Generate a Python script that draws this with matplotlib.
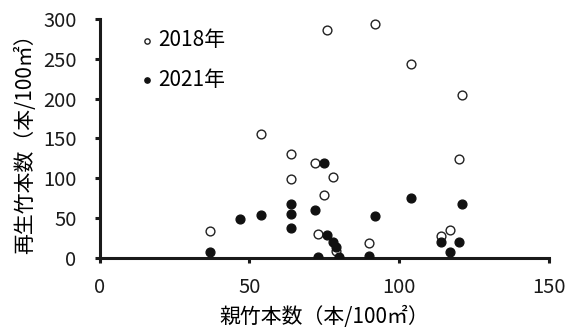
import matplotlib
matplotlib.use('Agg')
import matplotlib.pyplot as plt

plt.rcParams['font.family'] = ['Noto Sans CJK JP', 'DejaVu Sans']

# 2018年 (白丸)
x_2018 = [37, 54, 64, 64, 72, 75, 78, 73, 79, 90, 76, 92, 104, 121, 120, 114, 117]
y_2018 = [34, 156, 130, 99, 119, 79, 102, 30, 8, 19, 286, 294, 244, 204, 124, 27, 35]

# 2021年 (黒丸)
x_2021 = [37, 47, 54, 64, 64, 64, 75, 72, 76, 78, 79, 80, 73, 90, 92, 104, 121, 114, 120, 117]
y_2021 = [7, 48, 54, 68, 55, 37, 119, 60, 28, 20, 14, 1, 0.5, 2, 52, 75, 67, 20, 20, 7]

xticks = [0, 50, 100, 150]
yticks = [0, 50, 100, 150, 200, 250, 300]

fig = plt.figure(figsize=(5.69, 3.31), dpi=100)
ax = fig.add_axes([0.175, 0.2215, 0.79, 0.721])

ax.scatter(x_2018, y_2018, s=40, facecolors='white', edgecolors='#222222',
           linewidths=1.0, label='2018年', zorder=3)
ax.scatter(x_2021, y_2021, s=40, facecolors='#111111', edgecolors='#111111',
           linewidths=1.0, label='2021年', zorder=4)

ax.set_xlim(0, 150)
ax.set_ylim(0, 300)
ax.set_xticks(xticks)
ax.set_yticks(yticks)

for s in ['top', 'right']:
    ax.spines[s].set_visible(False)
for s in ['left', 'bottom']:
    ax.spines[s].set_linewidth(2.2)
    ax.spines[s].set_color('#1a1a1a')

ax.tick_params(direction='out', length=3.6, width=2.2, labelsize=14.5,
               colors='#1a1a1a')
ax.tick_params(axis='y', pad=13)
ax.tick_params(axis='x', pad=10)

ax.set_xlabel('親竹本数（本/100㎡）', fontsize=15, labelpad=6)
ax.set_ylabel('再生竹本数（本/100㎡）', fontsize=15, labelpad=5)

ax.legend(loc='upper left', bbox_to_anchor=(0.05, 1.035), frameon=False,
          fontsize=15, markerscale=0.6, handletextpad=0.25, labelspacing=0.84,
          handlelength=0.6)

fig.savefig('out.png', dpi=100)
